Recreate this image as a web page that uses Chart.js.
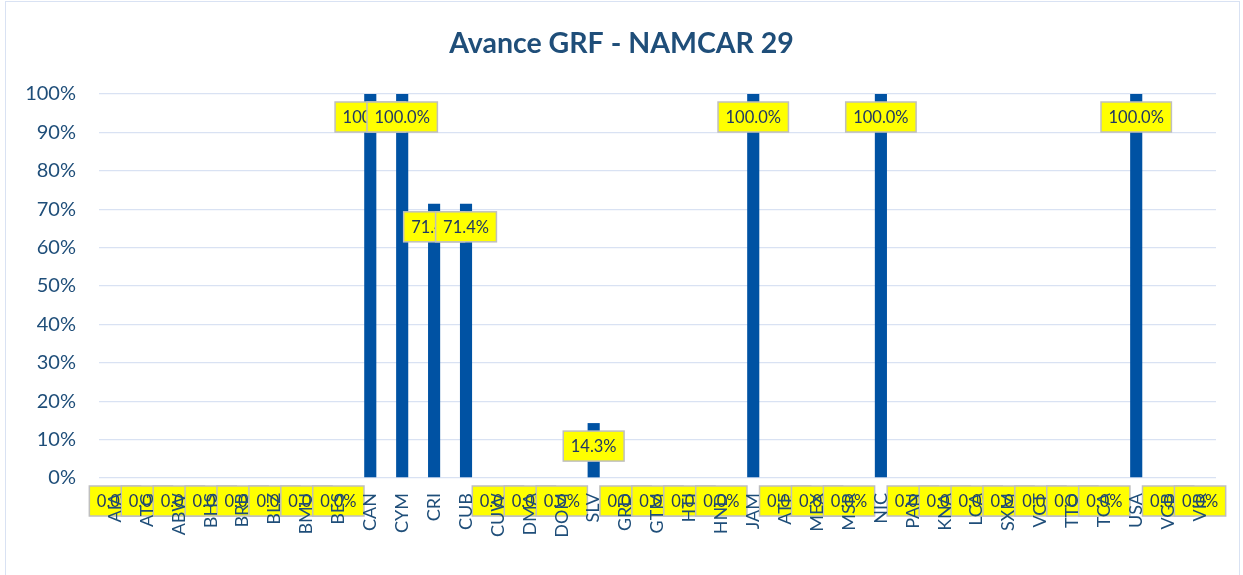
<!DOCTYPE html>
<html>
<head>
<meta charset="utf-8">
<script src="https://cdn.jsdelivr.net/npm/chart.js@4.4.1/dist/chart.umd.min.js"></script>
<style>
  html, body { margin: 0; padding: 0; background: #ffffff; }
  #wrap { position: relative; width: 1243px; height: 575px; overflow: hidden; }
  #frame { position: absolute; left: 5px; top: 1px; width: 1235px; height: 600px; border: 1.5px solid #D9E2F3; box-sizing: border-box; }
  canvas { position: absolute; left: 0; top: 0; }
</style>
</head>
<body>
<div id="wrap">
  <div id="frame"></div>
  <canvas id="c" width="1243" height="575"></canvas>
</div>
<script>
const chartTitle = 'Avance GRF - NAMCAR 29';
const categories = ['AIA','ATG','ABW','BHS','BRB','BLZ','BMU','BES','CAN','CYM','CRI','CUB','CUW','DMA','DOM','SLV','GRD','GTM','HTI','HND','JAM','ATF','MEX','MSR','NIC','PAN','KNA','LCA','SXM','VCT','TTO','TCA','USA','VGB','VIR'];
const progress = [0,0,0,0,0,0,0,0,1.0,1.0,0.714,0.714,0,0,0,0.143,0,0,0,0,1.0,0,0,0,1.0,0,0,0,0,0,0,0,1.0,0,0];
const yTickValues = [0,0.1,0.2,0.3,0.4,0.5,0.6,0.7,0.8,0.9,1.0];

const FONT = 'Lato, "Open Sans", "DejaVu Sans", sans-serif';
const TEXT_BLUE = '#1F4E79';

const labelBoxes = {
  id: 'labelBoxes',
  afterDatasetsDraw(chart) {
    const ctx = chart.ctx;
    const meta = chart.getDatasetMeta(0);
    ctx.save();
    ctx.font = '16.5px ' + FONT;
    ctx.textAlign = 'center';
    ctx.textBaseline = 'middle';
    meta.data.forEach((bar, i) => {
      const txt = (progress[i] * 100).toFixed(1) + '%';
      const w = ctx.measureText(txt).width + 15;
      const h = 30;
      const cx = bar.x;
      const cy = bar.y + 23;
      ctx.fillStyle = '#FFFF00';
      ctx.fillRect(cx - w / 2, cy - h / 2, w, h);
      ctx.strokeStyle = '#BFBFBF';
      ctx.lineWidth = 1.5;
      ctx.strokeRect(cx - w / 2, cy - h / 2, w, h);
      ctx.fillStyle = '#203864';
      ctx.fillText(txt, cx, cy + 1);
    });
    ctx.restore();
  }
};

new Chart(document.getElementById('c'), {
  type: 'bar',
  data: {
    labels: categories,
    datasets: [{
      data: progress,
      backgroundColor: '#0052A3',
      borderWidth: 0,
      barPercentage: 0.38,
      categoryPercentage: 1.0
    }]
  },
  options: {
    responsive: false,
    animation: false,
    layout: { padding: 0 },
    plugins: {
      legend: { display: false },
      tooltip: { enabled: false },
      title: {
        display: true,
        text: chartTitle,
        color: TEXT_BLUE,
        font: { family: FONT, size: 28.5, weight: 'bold', lineHeight: 1.2 },
        padding: { top: 27, bottom: 32.8 }
      }
    },
    scales: {
      x: {
        grid: { display: false, drawTicks: false },
        border: { display: false },
        ticks: {
          z: 1,
          autoSkip: false,
          maxRotation: 90,
          minRotation: 90,
          padding: 15,
          color: TEXT_BLUE,
          font: { family: FONT, size: 18 }
        },
        afterFit(s) { s.height = 97; }
      },
      y: {
        min: 0,
        max: 1,
        afterBuildTicks(s) { s.ticks = yTickValues.map(v => ({ value: v })); },
        grid: { color: '#D9E2F3', lineWidth: 1.3, drawTicks: false },
        border: { display: false },
        ticks: {
          padding: 23,
          color: TEXT_BLUE,
          font: { family: FONT, size: 20 },
          callback: v => Math.round(v * 100) + '%'
        },
        afterFit(s) { s.width = 99; }
      },
      yRight: {
        position: 'right',
        display: true,
        min: 0,
        max: 1,
        grid: { display: false, drawTicks: false },
        border: { display: false },
        ticks: { display: false },
        afterFit(s) { s.width = 27; }
      }
    }
  },
  plugins: [labelBoxes]
});
</script>
</body>
</html>
